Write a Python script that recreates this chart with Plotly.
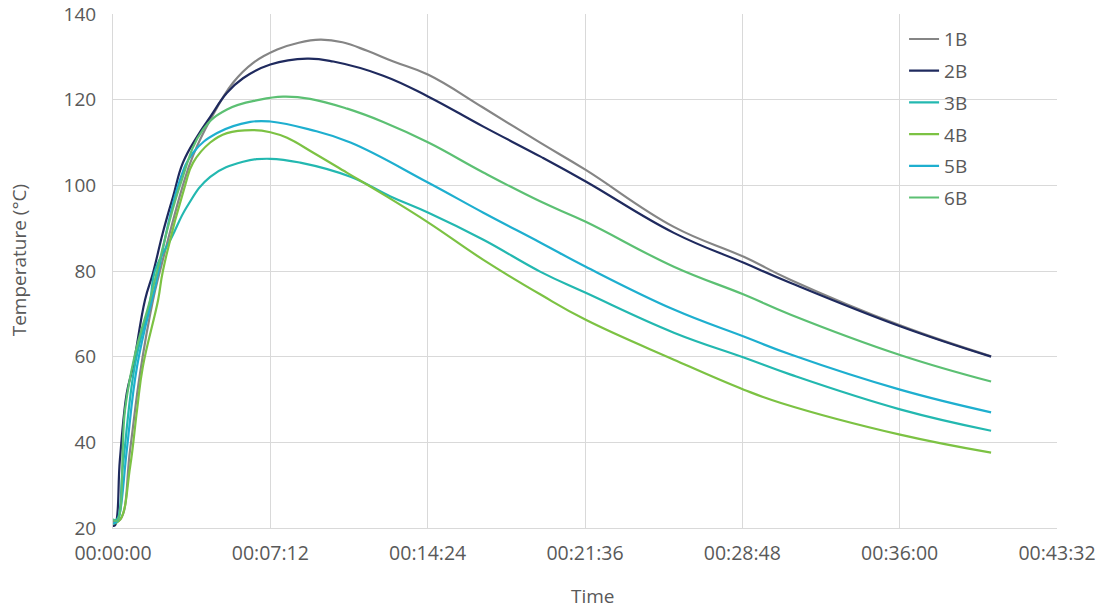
import plotly.graph_objects as go

# ---- data (time in seconds, temperature in °C) ----
t_1B = [0, 20, 47, 74, 110, 129, 192, 220, 267, 330, 385, 451, 510, 569, 630, 698, 770, 866, 1017, 1174, 1298, 1540, 1732, 1861, 2161, 2411]
y_1B = [21.5, 22, 38.3, 56, 73.3, 80, 100, 107, 115.3, 124, 128.6, 131.7, 133.3, 134, 133.4, 131.4, 128.9, 125.8, 118.1, 109.9, 103.6, 90.3, 83.3, 77.9, 67.3, 60.1]

t_2B = [0, 6, 19, 38, 55, 88, 110, 137, 165, 192, 231, 267, 313, 357, 432, 533, 605, 742, 866, 1017, 1174, 1298, 1540, 1732, 1861, 2161, 2411]
y_2B = [20.5, 20.7, 36, 51.6, 57.7, 73.3, 79.6, 89, 97.4, 105.3, 111.4, 116, 121.6, 125, 128.2, 129.6, 128.9, 125.6, 120.7, 113.7, 106.7, 100.9, 88.9, 81.9, 77.2, 67.1, 60]

t_3B = [0, 11, 27, 60, 102, 115, 162, 203, 267, 357, 432, 514, 652, 762, 866, 1017, 1174, 1298, 1540, 1732, 1861, 2161, 2411]
y_3B = [22, 22, 34.3, 58, 73, 80, 88, 95, 102, 105.5, 106.2, 105.3, 102, 97.4, 93.6, 87.3, 79.8, 74.9, 65.6, 59.8, 55.8, 47.7, 42.7]

t_4B = [0, 20, 47, 66, 82, 124, 137, 198, 220, 267, 313, 385, 432, 478, 550, 643, 734, 866, 1017, 1174, 1298, 1540, 1732, 1834, 2161, 2411]
y_4B = [21, 22, 34.3, 47.6, 57.7, 73.3, 80, 100, 105.3, 110, 112.2, 112.9, 112.4, 111.1, 107.6, 102.9, 98.3, 91.3, 82.6, 74.5, 68.6, 59.3, 52.3, 49.2, 41.8, 37.6]

t_5B = [0, 11, 19, 38, 66, 107, 115, 179, 220, 286, 377, 432, 541, 652, 866, 1017, 1174, 1298, 1540, 1732, 1861, 2161, 2411]
y_5B = [21, 21.5, 23.6, 38.3, 57.7, 73.3, 76, 100, 107.6, 112.2, 114.8, 114.9, 113, 110, 100.6, 93.6, 86.6, 81, 71, 64.7, 60.5, 52.3, 47]

t_6B = [0, 11, 33, 60, 102, 121, 184, 247, 313, 404, 467, 541, 643, 742, 866, 1017, 1174, 1298, 1540, 1732, 1861, 2161, 2411]
y_6B = [22, 21.7, 47.6, 60.4, 73.3, 80, 100, 113, 117.7, 120, 120.7, 120.2, 117.9, 114.8, 110, 103, 96.2, 91.5, 81, 74.5, 69.8, 60.4, 54.2]

series_names = ["1B", "2B", "3B", "4B", "5B", "6B"]
series_t = [t_1B, t_2B, t_3B, t_4B, t_5B, t_6B]
series_y = [y_1B, y_2B, y_3B, y_4B, y_5B, y_6B]
colors = ["#858585", "#1F2A5E", "#23B8B0", "#7CC243", "#1EAFCF", "#5CC073"]

tick_vals = [0, 432, 864, 1296, 1728, 2160, 2592]
tick_text = ["00:00:00", "00:07:12", "00:14:24", "00:21:36", "00:28:48", "00:36:00", "00:43:32"]

FONT = "Open Sans, Liberation Sans, sans-serif"
TXT = "#595959"
fig = go.Figure()
for name, t, y, c in zip(series_names, series_t, series_y, colors):
    fig.add_trace(go.Scatter(x=t, y=y, name=name, mode="lines", legendgroup=name,
                             line=dict(color=c, width=2.2, shape="spline", smoothing=1.2)))

fig.update_layout(
    width=1105, height=610,
    margin=dict(l=113, r=48, t=14, b=82),
    paper_bgcolor="white", plot_bgcolor="white",
    font=dict(family=FONT, size=19, color=TXT),
    showlegend=True,
    legend=dict(x=0.838, y=0.988, xanchor="left", yanchor="top",
                bgcolor="rgba(0,0,0,0)", font=dict(size=19, color=TXT),
                tracegroupgap=4, itemwidth=30),
    xaxis=dict(range=[0, 2592], tickvals=tick_vals, ticktext=tick_text,
               showgrid=True, gridcolor="#D9D9D9", gridwidth=1,
               showline=True, linecolor="#D9D9D9", linewidth=1,
               zeroline=False, ticks="", ticklen=0, automargin=False,
               ticklabelstandoff=8, tickfont=dict(size=19.5)),
    yaxis=dict(range=[20, 140], dtick=20, tick0=20,
               showgrid=True, gridcolor="#D9D9D9", gridwidth=1,
               showline=True, linecolor="#D9D9D9", linewidth=1,
               zeroline=False, ticks="", ticklen=0, automargin=False,
               ticklabelstandoff=12),
    annotations=[
        dict(text="Time", xref="paper", yref="paper", x=0.508, y=-0.133,
             xanchor="center", yanchor="middle", showarrow=False,
             font=dict(size=19, color=TXT)),
        dict(text="Temperature (°C)", xref="paper", yref="paper", x=-0.1, y=0.52,
             xanchor="center", yanchor="middle", showarrow=False, textangle=-90,
             font=dict(size=19, color=TXT)),
    ],
)

fig.write_html("out.html", config={"displayModeBar": False},
               post_script="document.body.style.margin='0';")
